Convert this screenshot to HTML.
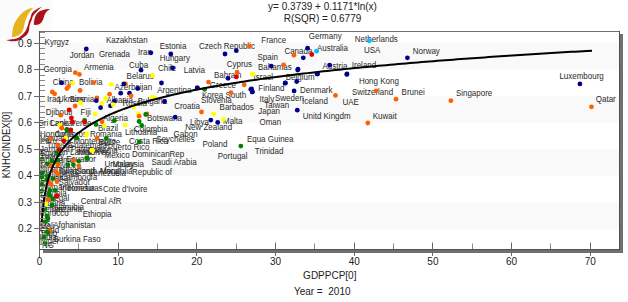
<!DOCTYPE html>
<html><head><meta charset="utf-8"><style>
html,body{margin:0;padding:0;background:#fff;width:628px;height:302px;overflow:hidden}
svg{display:block}
text{font-family:"Liberation Sans",sans-serif}
.lb{font-size:8.8px;fill:#2a2a2a}
.tk{font-size:10px;fill:#222}
.tt{font-size:10px;fill:#222}
.yl{font-size:10.4px;fill:#222}
</style></head><body>
<svg width="628" height="302" viewBox="0 0 628 302">
<g id="logo"><rect x="0" y="0" width="52" height="44" fill="#fbfbfb"/><path d="M11.9,37 C12.3,30 13.5,24.5 15.7,21.1 C18,17 22,12 26.4,9.9 C29,8.6 31,8 33.5,7.8 C31.5,9.5 28.8,12.5 27.3,16.1 C26,19 25.2,21 24.8,22.7 C24,26.5 23.5,30 21.5,33 C19,35.8 15.5,36.8 11.9,37 Z" fill="#e6b41e"/><path d="M6.1,39.9 C10,39.8 14,39.2 16.4,38.6 C19.5,37.8 21.5,35.8 23.1,34.1 C25,32 26,30.5 26.6,28.5 L27.3,26.9 C27.8,25.5 28.2,24.5 28.5,23.1 C29.2,20.5 29.8,19 30.6,17.7 C31,16 31.2,14.8 31.8,13.6 C32.8,12 34,11 35.1,10.3 C37,9 39.5,7.6 41.8,6.8 C39.5,8.8 37.8,10.5 36.4,11.9 C35,13.2 34.2,14.2 33.5,15.3 C32.6,16.8 32.2,18 31.8,19.4 C31.2,21 30.6,22.3 30.2,23.5 C29.8,24.7 29.5,25.8 29.3,26.9 C29.2,28.2 29.2,29.6 28.9,30.8 C28.2,33.2 26.8,35.2 24.7,36.6 C22,38.8 19.5,40.5 16.4,41.1 C12.5,41.7 9,41 6.1,39.9 Z" fill="#aa111a"/><path d="M33.8,24.8 C34,21 34.5,17.5 36,15 C37.5,12.5 40,10.8 42.2,10.3 C45,9.4 47.5,9 50.4,9.1 C48.5,10 46.5,11.5 45.2,13.8 C44,16 43.8,17.5 43.2,19.2 C42.3,21.5 41,23 39.5,24 C37.8,24.9 35.8,25 33.8,24.8 Z" fill="#aa111a"/></g>
<rect x="40" y="43.20" width="579" height="26.50" fill="#f9f9f9"/>
<rect x="40" y="96.20" width="579" height="26.50" fill="#f9f9f9"/>
<rect x="40" y="149.20" width="579" height="26.50" fill="#f9f9f9"/>
<rect x="40" y="202.20" width="579" height="26.50" fill="#f9f9f9"/>
<rect x="620" y="34" width="3" height="219" fill="#707070"/>
<rect x="43" y="250" width="580" height="3" fill="#707070"/>
<rect x="39" y="31" width="581" height="1" fill="#707070"/>
<rect x="619" y="31" width="1" height="219" fill="#505050"/>
<rect x="39" y="249" width="581" height="1" fill="#505050"/>
<defs><clipPath id="pc"><rect x="40" y="32" width="579" height="217"/></clipPath></defs>
<g clip-path="url(#pc)">
<text transform="translate(44.6,44.90) scale(0.909,1)" class="lb">Kyrgyz</text>
<text transform="translate(69.8,58.40) scale(0.909,1)" class="lb">Jordan</text>
<text transform="translate(105.9,42.80) scale(0.909,1)" class="lb">Kazakhstan</text>
<text transform="translate(98.9,56.80) scale(0.909,1)" class="lb">Grenada</text>
<text transform="translate(43.6,71.50) scale(0.909,1)" class="lb">Georgia</text>
<text transform="translate(84,70.00) scale(0.909,1)" class="lb">Armenia</text>
<text transform="translate(138.1,54.80) scale(0.909,1)" class="lb">Iran</text>
<text transform="translate(159.7,48.80) scale(0.909,1)" class="lb">Estonia</text>
<text transform="translate(159.7,60.90) scale(0.909,1)" class="lb">Hungary</text>
<text transform="translate(129,68.00) scale(0.909,1)" class="lb">Cuba</text>
<text transform="translate(126.6,79.30) scale(0.909,1)" class="lb">Belarus</text>
<text transform="translate(158,71.30) scale(0.909,1)" class="lb">Chile</text>
<text transform="translate(183.7,72.50) scale(0.909,1)" class="lb">Latvia</text>
<text transform="translate(199,48.80) scale(0.909,1)" class="lb">Czech Republic</text>
<text transform="translate(226.7,67.10) scale(0.909,1)" class="lb">Cyprus</text>
<text transform="translate(214,77.50) scale(0.909,1)" class="lb">Bahrain</text>
<text transform="translate(261.3,43.20) scale(0.909,1)" class="lb">France</text>
<text transform="translate(308.8,39.40) scale(0.909,1)" class="lb">Germany</text>
<text transform="translate(284.4,53.80) scale(0.909,1)" class="lb">Canada</text>
<text transform="translate(317,50.50) scale(0.909,1)" class="lb">Australia</text>
<text transform="translate(257.5,59.80) scale(0.909,1)" class="lb">Spain</text>
<text transform="translate(258,70.00) scale(0.909,1)" class="lb">Bahamas</text>
<text transform="translate(354.8,42.20) scale(0.909,1)" class="lb">Netherlands</text>
<text transform="translate(363.9,52.70) scale(0.909,1)" class="lb">USA</text>
<text transform="translate(322.5,69.20) scale(0.909,1)" class="lb">Austria</text>
<text transform="translate(351.8,68.00) scale(0.909,1)" class="lb">Ireland</text>
<text transform="translate(412.8,53.80) scale(0.909,1)" class="lb">Norway</text>
<text transform="translate(455.9,96.40) scale(0.909,1)" class="lb">Singapore</text>
<text transform="translate(559.4,79.30) scale(0.909,1)" class="lb">Luxembourg</text>
<text transform="translate(595.8,102.30) scale(0.909,1)" class="lb">Qatar</text>
<text transform="translate(52.8,84.60) scale(0.909,1)" class="lb">China</text>
<text transform="translate(79,84.60) scale(0.909,1)" class="lb">Bolivia</text>
<text transform="translate(47,101.90) scale(0.909,1)" class="lb">Iraq</text>
<text transform="translate(57.9,101.60) scale(0.909,1)" class="lb">Ukraine</text>
<text transform="translate(69.8,101.50) scale(0.909,1)" class="lb">Bosnia</text>
<text transform="translate(114.5,89.90) scale(0.909,1)" class="lb">Azerbaijan</text>
<text transform="translate(157.2,93.10) scale(0.909,1)" class="lb">Argentina</text>
<text transform="translate(106.4,103.30) scale(0.909,1)" class="lb">Albania</text>
<text transform="translate(122.5,105.50) scale(0.909,1)" class="lb">Russia</text>
<text transform="translate(137.7,103.50) scale(0.909,1)" class="lb">Bulgaria</text>
<text transform="translate(174.2,109.10) scale(0.909,1)" class="lb">Croatia</text>
<text transform="translate(103,120.50) scale(0.909,1)" class="lb">Algeria</text>
<text transform="translate(147,120.90) scale(0.909,1)" class="lb">Botswana</text>
<text transform="translate(98,130.60) scale(0.909,1)" class="lb">Brazil</text>
<text transform="translate(134,131.90) scale(0.909,1)" class="lb">Colombia</text>
<text transform="translate(45.7,114.60) scale(0.909,1)" class="lb">Djibouti</text>
<text transform="translate(80.6,114.60) scale(0.909,1)" class="lb">Fiji</text>
<text transform="translate(38.5,125.50) scale(0.909,1)" class="lb">Sri Lanka</text>
<text transform="translate(49.3,125.50) scale(0.909,1)" class="lb">Cape Verde</text>
<text transform="translate(40,136.50) scale(0.909,1)" class="lb">Honduras</text>
<text transform="translate(54.6,136.70) scale(0.909,1)" class="lb">Comoros</text>
<text transform="translate(89.9,136.50) scale(0.909,1)" class="lb">Romania</text>
<text transform="translate(124.9,135.30) scale(0.909,1)" class="lb">Lithuania</text>
<text transform="translate(129.1,143.70) scale(0.909,1)" class="lb">Costa Rica</text>
<text transform="translate(173.6,136.60) scale(0.909,1)" class="lb">Gabon</text>
<text transform="translate(156.2,142.00) scale(0.909,1)" class="lb">Seychelles</text>
<text transform="translate(73.4,143.80) scale(0.909,1)" class="lb">Montenegro</text>
<text transform="translate(98.5,144.70) scale(0.909,1)" class="lb">Belize</text>
<text transform="translate(107.8,150.20) scale(0.909,1)" class="lb">Puerto Rico</text>
<text transform="translate(40,140.60) scale(0.909,1)" class="lb">Vanuatu</text>
<text transform="translate(40,144.30) scale(0.909,1)" class="lb">Peru</text>
<text transform="translate(46.7,147.60) scale(0.909,1)" class="lb">Tunisia</text>
<text transform="translate(68,147.60) scale(0.909,1)" class="lb">Guatemala</text>
<text transform="translate(40,152.00) scale(0.909,1)" class="lb">Jamaica</text>
<text transform="translate(71,152.00) scale(0.909,1)" class="lb">Paraguay</text>
<text transform="translate(88,152.70) scale(0.909,1)" class="lb">Panama</text>
<text transform="translate(40,155.80) scale(0.909,1)" class="lb">Egypt</text>
<text transform="translate(58,155.10) scale(0.909,1)" class="lb">Sri Lanka</text>
<text transform="translate(78,155.10) scale(0.909,1)" class="lb">Maldives</text>
<text transform="translate(131.9,156.90) scale(0.909,1)" class="lb">DominicanRep</text>
<text transform="translate(104.5,158.10) scale(0.909,1)" class="lb">Mexico</text>
<text transform="translate(40,158.50) scale(0.909,1)" class="lb">Turkey</text>
<text transform="translate(66.2,162.20) scale(0.909,1)" class="lb">Ecuador</text>
<text transform="translate(40,162.80) scale(0.909,1)" class="lb">Suriname</text>
<text transform="translate(104.5,166.70) scale(0.909,1)" class="lb">Uruguay</text>
<text transform="translate(112.5,167.10) scale(0.909,1)" class="lb">Malaysia</text>
<text transform="translate(151.4,164.80) scale(0.909,1)" class="lb">Saudi Arabia</text>
<text transform="translate(40,167.80) scale(0.909,1)" class="lb">Moldova</text>
<text transform="translate(58.6,173.90) scale(0.909,1)" class="lb">Swaziland</text>
<text transform="translate(76,174.20) scale(0.909,1)" class="lb">South Africa</text>
<text transform="translate(100,173.70) scale(0.909,1)" class="lb">Mongolia</text>
<text transform="translate(132,174.60) scale(0.909,1)" class="lb">Republic of</text>
<text transform="translate(88.7,176.30) scale(0.909,1)" class="lb">Venezuela</text>
<text transform="translate(40,171.80) scale(0.909,1)" class="lb">Nicaragua</text>
<text transform="translate(40,176.80) scale(0.909,1)" class="lb">Philippines</text>
<text transform="translate(60.7,179.70) scale(0.909,1)" class="lb">Cambodia</text>
<text transform="translate(40,181.30) scale(0.909,1)" class="lb">Guyana</text>
<text transform="translate(58.6,185.30) scale(0.909,1)" class="lb">Salvador</text>
<text transform="translate(40,185.80) scale(0.909,1)" class="lb">El</text>
<text transform="translate(60,190.70) scale(0.909,1)" class="lb">Indonesia</text>
<text transform="translate(68,190.70) scale(0.909,1)" class="lb">Honduras</text>
<text transform="translate(103,191.90) scale(0.909,1)" class="lb">Cote d'Ivoire</text>
<text transform="translate(40,190.30) scale(0.909,1)" class="lb">Vietnam</text>
<text transform="translate(40,196.30) scale(0.909,1)" class="lb">Zambia</text>
<text transform="translate(40,201.30) scale(0.909,1)" class="lb">Senegal</text>
<text transform="translate(80.7,204.40) scale(0.909,1)" class="lb">Central AfR</text>
<text transform="translate(54.6,210.30) scale(0.909,1)" class="lb">Namibia</text>
<text transform="translate(50,211.80) scale(0.909,1)" class="lb">Tanzania</text>
<text transform="translate(82.7,216.90) scale(0.909,1)" class="lb">Ethiopia</text>
<text transform="translate(38,216.10) scale(0.909,1)" class="lb">Morocco</text>
<text transform="translate(40,211.80) scale(0.909,1)" class="lb">Kenya</text>
<text transform="translate(40,206.30) scale(0.909,1)" class="lb">Nigeria</text>
<text transform="translate(53.2,227.70) scale(0.909,1)" class="lb">Afghanistan</text>
<text transform="translate(53.7,242.10) scale(0.909,1)" class="lb">Burkina Faso</text>
<text transform="translate(33,226.30) scale(0.909,1)" class="lb">Laos</text>
<text transform="translate(40,229.30) scale(0.909,1)" class="lb">Mali</text>
<text transform="translate(40,233.30) scale(0.909,1)" class="lb">Chad</text>
<text transform="translate(39.5,240.00) scale(0.909,1)" class="lb">India</text>
<text transform="translate(40,236.30) scale(0.909,1)" class="lb">Togo</text>
<text transform="translate(42,247.80) scale(0.909,1)" class="lb">NG</text>
<text transform="translate(40,244.30) scale(0.909,1)" class="lb">Niger</text>
<text transform="translate(189.9,125.30) scale(0.909,1)" class="lb">Libya</text>
<text transform="translate(185.2,129.90) scale(0.909,1)" class="lb">New Zealand</text>
<text transform="translate(223,124.10) scale(0.909,1)" class="lb">Malta</text>
<text transform="translate(202.5,146.90) scale(0.909,1)" class="lb">Poland</text>
<text transform="translate(217.8,159.10) scale(0.909,1)" class="lb">Portugal</text>
<text transform="translate(209.8,88.20) scale(0.909,1)" class="lb">Greece</text>
<text transform="translate(201.9,98.30) scale(0.909,1)" class="lb">Korea South</text>
<text transform="translate(201.1,102.80) scale(0.909,1)" class="lb">Slovenia</text>
<text transform="translate(219.6,109.60) scale(0.909,1)" class="lb">Barbados</text>
<text transform="translate(258.3,91.20) scale(0.909,1)" class="lb">Finland</text>
<text transform="translate(259.5,101.70) scale(0.909,1)" class="lb">Italy</text>
<text transform="translate(275,101.10) scale(0.909,1)" class="lb">Sweden</text>
<text transform="translate(264.3,107.70) scale(0.909,1)" class="lb">Taiwan</text>
<text transform="translate(258.3,113.80) scale(0.909,1)" class="lb">Japan</text>
<text transform="translate(259.5,125.10) scale(0.909,1)" class="lb">Oman</text>
<text transform="translate(246.9,142.30) scale(0.909,1)" class="lb">Equa Guinea</text>
<text transform="translate(254.8,153.70) scale(0.909,1)" class="lb">Trinidad</text>
<text transform="translate(253.6,79.80) scale(0.909,1)" class="lb">Israel</text>
<text transform="translate(285.8,80.20) scale(0.909,1)" class="lb">Belgium</text>
<text transform="translate(300.1,93.20) scale(0.909,1)" class="lb">Denmark</text>
<text transform="translate(302.1,104.10) scale(0.909,1)" class="lb">Iceland</text>
<text transform="translate(302.7,118.60) scale(0.909,1)" class="lb">Unitd Kingdm</text>
<text transform="translate(342.4,105.10) scale(0.909,1)" class="lb">UAE</text>
<text transform="translate(358.9,84.20) scale(0.909,1)" class="lb">Hong Kong</text>
<text transform="translate(351.9,95.10) scale(0.909,1)" class="lb">Switzerland</text>
<text transform="translate(401.6,95.10) scale(0.909,1)" class="lb">Brunei</text>
<text transform="translate(372.8,119.00) scale(0.909,1)" class="lb">Kuwait</text>
<circle cx="86.3" cy="49" r="2.4" fill="#00008b"/>
<circle cx="75.3" cy="72.7" r="2.4" fill="#ff6000"/>
<circle cx="79.4" cy="74.4" r="2.4" fill="#ff6000"/>
<circle cx="150.9" cy="52.8" r="2.4" fill="#00008b"/>
<circle cx="170.8" cy="54" r="2.4" fill="#00008b"/>
<circle cx="141" cy="70.2" r="2.4" fill="#00008b"/>
<circle cx="152.7" cy="75.5" r="2.4" fill="#ffff00"/>
<circle cx="172.6" cy="68" r="2.4" fill="#00008b"/>
<circle cx="225" cy="54" r="2.4" fill="#00008b"/>
<circle cx="236.3" cy="50.7" r="2.4" fill="#00008b"/>
<circle cx="249.5" cy="46" r="2.4" fill="#ff6000"/>
<circle cx="237.1" cy="72.2" r="2.4" fill="#ff6000"/>
<circle cx="236.3" cy="76.9" r="2.4" fill="#e00000"/>
<circle cx="228" cy="78.3" r="2.4" fill="#00008b"/>
<circle cx="252.8" cy="74.4" r="2.4" fill="#ffff00"/>
<circle cx="293.9" cy="55.2" r="2.4" fill="#ff6000"/>
<circle cx="307.6" cy="48.2" r="2.4" fill="#00008b"/>
<circle cx="311.8" cy="54.5" r="2.4" fill="#e00000"/>
<circle cx="316.6" cy="51.2" r="2.4" fill="#00c0ff"/>
<circle cx="303.3" cy="57.8" r="2.4" fill="#00008b"/>
<circle cx="271.2" cy="66.1" r="2.4" fill="#00008b"/>
<circle cx="283.6" cy="64.8" r="2.4" fill="#ff6000"/>
<circle cx="298" cy="69.2" r="2.4" fill="#00008b"/>
<circle cx="317" cy="73.9" r="2.4" fill="#00008b"/>
<circle cx="369.3" cy="40.8" r="2.4" fill="#00c0ff"/>
<circle cx="329.6" cy="65.1" r="2.4" fill="#00008b"/>
<circle cx="346.8" cy="74.4" r="2.4" fill="#00008b"/>
<circle cx="407.4" cy="57.8" r="2.4" fill="#00008b"/>
<circle cx="450.9" cy="100.7" r="2.4" fill="#ff6000"/>
<circle cx="579.9" cy="83.9" r="2.4" fill="#00008b"/>
<circle cx="591.5" cy="106.8" r="2.4" fill="#ff6000"/>
<circle cx="61.6" cy="82.8" r="2.4" fill="#00008b"/>
<circle cx="72.7" cy="83.2" r="2.4" fill="#ffff00"/>
<circle cx="93.4" cy="82.6" r="2.4" fill="#ff6000"/>
<circle cx="66.9" cy="88.5" r="2.4" fill="#ff6000"/>
<circle cx="68.5" cy="86.6" r="2.4" fill="#ff6000"/>
<circle cx="80.1" cy="90.5" r="2.4" fill="#ff6000"/>
<circle cx="52.3" cy="91.9" r="2.4" fill="#ff6000"/>
<circle cx="54.6" cy="93.8" r="2.4" fill="#ff6000"/>
<circle cx="80.4" cy="102.8" r="2.4" fill="#ffff00"/>
<circle cx="75.1" cy="106" r="2.4" fill="#ff6000"/>
<circle cx="69.1" cy="109.9" r="2.4" fill="#e00000"/>
<circle cx="96.9" cy="97.8" r="2.4" fill="#ff6000"/>
<circle cx="96.3" cy="100.7" r="2.4" fill="#00008b"/>
<circle cx="111.2" cy="84.3" r="2.4" fill="#ffff00"/>
<circle cx="125.5" cy="83.9" r="2.4" fill="#ff6000"/>
<circle cx="123.8" cy="83.9" r="2.4" fill="#00008b"/>
<circle cx="137.7" cy="88.5" r="2.4" fill="#00008b"/>
<circle cx="120.7" cy="93.2" r="2.4" fill="#00008b"/>
<circle cx="129.5" cy="93.2" r="2.4" fill="#00008b"/>
<circle cx="131.1" cy="95.8" r="2.4" fill="#ff6000"/>
<circle cx="109.6" cy="94.2" r="2.4" fill="#ff6000"/>
<circle cx="105.6" cy="98.5" r="2.4" fill="#ffff00"/>
<circle cx="101.9" cy="103.4" r="2.4" fill="#ffff00"/>
<circle cx="100.6" cy="107.7" r="2.4" fill="#00008b"/>
<circle cx="114.5" cy="101.1" r="2.4" fill="#00008b"/>
<circle cx="110.5" cy="105.8" r="2.4" fill="#00008b"/>
<circle cx="113.2" cy="104.7" r="2.4" fill="#ffff00"/>
<circle cx="133.7" cy="107.1" r="2.4" fill="#ffff00"/>
<circle cx="161.5" cy="83" r="2.4" fill="#00008b"/>
<circle cx="197.2" cy="87.9" r="2.4" fill="#00008b"/>
<circle cx="152.2" cy="97.2" r="2.4" fill="#ffff00"/>
<circle cx="154.6" cy="97.8" r="2.4" fill="#ffff00"/>
<circle cx="164.5" cy="101.5" r="2.4" fill="#00008b"/>
<circle cx="138.4" cy="113.8" r="2.4" fill="#ffff00"/>
<circle cx="139.1" cy="116.2" r="2.4" fill="#ff6000"/>
<circle cx="147" cy="113.8" r="2.4" fill="#ff6000"/>
<circle cx="145.7" cy="114.5" r="2.4" fill="#008000"/>
<circle cx="139.1" cy="121.5" r="2.4" fill="#008000"/>
<circle cx="141.7" cy="125.5" r="2.4" fill="#008000"/>
<circle cx="114.3" cy="120.7" r="2.4" fill="#008000"/>
<circle cx="102" cy="121.8" r="2.4" fill="#ff6000"/>
<circle cx="125.2" cy="125.1" r="2.4" fill="#ffff00"/>
<circle cx="104.6" cy="125.8" r="2.4" fill="#ffff00"/>
<circle cx="175.2" cy="117.2" r="2.4" fill="#00008b"/>
<circle cx="60.8" cy="115.2" r="2.4" fill="#ff6000"/>
<circle cx="95.2" cy="113.9" r="2.4" fill="#ffff00"/>
<circle cx="80.6" cy="102.9" r="2.4" fill="#ffff00"/>
<circle cx="71.4" cy="117.9" r="2.4" fill="#e00000"/>
<circle cx="72.4" cy="121.9" r="2.4" fill="#e00000"/>
<circle cx="84.6" cy="120.5" r="2.4" fill="#008000"/>
<circle cx="84.6" cy="122" r="2.4" fill="#e00000"/>
<circle cx="96" cy="124.5" r="2.4" fill="#008000"/>
<circle cx="61.6" cy="128.1" r="2.4" fill="#ff6000"/>
<circle cx="59.9" cy="125.2" r="2.4" fill="#ffff00"/>
<circle cx="66.9" cy="129.4" r="2.4" fill="#008000"/>
<circle cx="70.5" cy="130.2" r="2.4" fill="#e00000"/>
<circle cx="201.5" cy="112" r="2.4" fill="#ff6000"/>
<circle cx="213.8" cy="113.8" r="2.4" fill="#ffff00"/>
<circle cx="210.8" cy="120.1" r="2.4" fill="#00008b"/>
<circle cx="217.7" cy="122.4" r="2.4" fill="#00008b"/>
<circle cx="223.5" cy="119.4" r="2.4" fill="#ffff00"/>
<circle cx="240.8" cy="146.1" r="2.4" fill="#008000"/>
<circle cx="208.5" cy="82.1" r="2.4" fill="#ff6000"/>
<circle cx="244.2" cy="84.8" r="2.4" fill="#ff6000"/>
<circle cx="231" cy="92.7" r="2.4" fill="#ff6000"/>
<circle cx="250.8" cy="89.3" r="2.4" fill="#00008b"/>
<circle cx="252.2" cy="91.9" r="2.4" fill="#00008b"/>
<circle cx="285.2" cy="83.2" r="2.4" fill="#00008b"/>
<circle cx="197.4" cy="87.9" r="2.4" fill="#00008b"/>
<circle cx="204.6" cy="89.3" r="2.4" fill="#008000"/>
<circle cx="252.4" cy="74" r="2.4" fill="#ffff00"/>
<circle cx="297.7" cy="70" r="2.4" fill="#00008b"/>
<circle cx="317.6" cy="74" r="2.4" fill="#00008b"/>
<circle cx="347" cy="74" r="2.4" fill="#00008b"/>
<circle cx="285.4" cy="82.9" r="2.4" fill="#00008b"/>
<circle cx="296.7" cy="81.5" r="2.4" fill="#00008b"/>
<circle cx="251.6" cy="88.9" r="2.4" fill="#00008b"/>
<circle cx="252.4" cy="91.9" r="2.4" fill="#00008b"/>
<circle cx="294.1" cy="90.9" r="2.4" fill="#00008b"/>
<circle cx="335.5" cy="95.4" r="2.4" fill="#ff6000"/>
<circle cx="297.3" cy="110.2" r="2.4" fill="#00008b"/>
<circle cx="376.2" cy="90.8" r="2.4" fill="#ff6000"/>
<circle cx="396" cy="99.2" r="2.4" fill="#ff6000"/>
<circle cx="367.8" cy="123" r="2.4" fill="#ff6000"/>
<circle cx="97" cy="138.3" r="2.4" fill="#ff6000"/>
<circle cx="106.2" cy="138.3" r="2.4" fill="#008000"/>
<circle cx="86.4" cy="135.3" r="2.4" fill="#ffff00"/>
<circle cx="87.3" cy="158.5" r="2.4" fill="#008000"/>
<circle cx="92.6" cy="150.5" r="2.4" fill="#ffff00"/>
<circle cx="139.3" cy="141.9" r="2.4" fill="#008000"/>
<circle cx="56.3" cy="196.2" r="2.4" fill="#e00000"/>
<circle cx="47.6" cy="217.4" r="2.4" fill="#008000"/>
<circle cx="47.1" cy="231.8" r="2.4" fill="#008000"/>
<circle cx="43.8" cy="238.1" r="2.4" fill="#008000"/>
<circle cx="49.6" cy="231.2" r="2.4" fill="#ff6000"/>
<circle cx="61.9" cy="128" r="2.4" fill="#ff6000"/>
<circle cx="66.8" cy="130" r="2.4" fill="#008000"/>
<circle cx="70.8" cy="130" r="2.4" fill="#e00000"/>
<circle cx="65.8" cy="137.9" r="2.4" fill="#ffff00"/>
<circle cx="50.9" cy="138.9" r="2.4" fill="#ff6000"/>
<circle cx="63.8" cy="140.9" r="2.4" fill="#e00000"/>
<circle cx="76.8" cy="137.9" r="2.4" fill="#008000"/>
<circle cx="86.7" cy="133.9" r="2.4" fill="#ffff00"/>
<circle cx="57.9" cy="144.9" r="2.4" fill="#ff6000"/>
<circle cx="58.9" cy="149.9" r="2.4" fill="#e00000"/>
<circle cx="56.9" cy="152.8" r="2.4" fill="#008000"/>
<circle cx="91.7" cy="150.4" r="2.4" fill="#ffff00"/>
<circle cx="86.7" cy="157.8" r="2.4" fill="#008000"/>
<circle cx="42" cy="159.2" r="2.4" fill="#008000"/>
<circle cx="47.9" cy="163.8" r="2.4" fill="#008000"/>
<circle cx="51.9" cy="160.8" r="2.4" fill="#008000"/>
<circle cx="57.9" cy="160.4" r="2.4" fill="#008000"/>
<circle cx="73.8" cy="160.4" r="2.4" fill="#ff6000"/>
<circle cx="78.8" cy="161.2" r="2.4" fill="#008000"/>
<circle cx="50.9" cy="165.8" r="2.4" fill="#ff6000"/>
<circle cx="57.9" cy="164.8" r="2.4" fill="#ff6000"/>
<circle cx="67.8" cy="164.8" r="2.4" fill="#008000"/>
<circle cx="73.4" cy="164.8" r="2.4" fill="#008000"/>
<circle cx="78.8" cy="165.8" r="2.4" fill="#ff6000"/>
<circle cx="55.9" cy="171.7" r="2.4" fill="#ff6000"/>
<circle cx="57.9" cy="173.7" r="2.4" fill="#ff6000"/>
<circle cx="42" cy="173.2" r="2.4" fill="#008000"/>
<circle cx="47.3" cy="175.9" r="2.4" fill="#008000"/>
<circle cx="42" cy="177" r="2.4" fill="#008000"/>
<circle cx="46.9" cy="179.7" r="2.4" fill="#008000"/>
<circle cx="52.9" cy="178.7" r="2.4" fill="#008000"/>
<circle cx="56.9" cy="181.7" r="2.4" fill="#ff6000"/>
<circle cx="42" cy="184.5" r="2.4" fill="#008000"/>
<circle cx="49.3" cy="182.5" r="2.4" fill="#ff6000"/>
<circle cx="51.2" cy="184.5" r="2.4" fill="#ff6000"/>
<circle cx="41.3" cy="191.1" r="2.4" fill="#008000"/>
<circle cx="49.9" cy="190.4" r="2.4" fill="#008000"/>
<circle cx="55.2" cy="190.4" r="2.4" fill="#008000"/>
<circle cx="49.9" cy="195.7" r="2.4" fill="#008000"/>
<circle cx="57.2" cy="195.7" r="2.4" fill="#e00000"/>
<circle cx="48.9" cy="194" r="2.4" fill="#008000"/>
<circle cx="52.9" cy="199" r="2.4" fill="#008000"/>
<circle cx="48.3" cy="199.5" r="2.4" fill="#ff6000"/>
<circle cx="45.9" cy="204" r="2.4" fill="#ffff00"/>
<circle cx="51.9" cy="204.9" r="2.4" fill="#008000"/>
<circle cx="45" cy="208.9" r="2.4" fill="#008000"/>
<circle cx="46.9" cy="215.8" r="2.4" fill="#008000"/>
<circle cx="47.9" cy="218.8" r="2.4" fill="#008000"/>
<circle cx="45" cy="221.8" r="2.4" fill="#008000"/>
<circle cx="49.9" cy="230.8" r="2.4" fill="#ff6000"/>
<circle cx="47.9" cy="232.7" r="2.4" fill="#008000"/>
<circle cx="44" cy="236.7" r="2.4" fill="#008000"/>
<circle cx="45" cy="243.7" r="2.4" fill="#008000"/>
<polyline points="41.70,222.12 41.77,221.20 41.84,220.28 41.91,219.37 41.98,218.45 42.05,217.53 42.13,216.62 42.21,215.70 42.29,214.78 42.37,213.86 42.46,212.95 42.55,212.03 42.64,211.11 42.74,210.19 42.83,209.28 42.93,208.36 43.04,207.44 43.14,206.53 43.25,205.61 43.36,204.69 43.48,203.77 43.60,202.86 43.72,201.94 43.85,201.02 43.98,200.10 44.11,199.19 44.25,198.27 44.39,197.35 44.54,196.44 44.69,195.52 44.85,194.60 45.01,193.68 45.17,192.77 45.34,191.85 45.52,190.93 45.70,190.01 45.89,189.10 46.08,188.18 46.27,187.26 46.48,186.35 46.69,185.43 46.90,184.51 47.12,183.59 47.35,182.68 47.59,181.76 47.83,180.84 48.08,179.92 48.34,179.01 48.60,178.09 48.88,177.17 49.16,176.26 49.45,175.34 49.75,174.42 50.05,173.50 50.37,172.59 50.70,171.67 51.03,170.75 51.38,169.84 51.73,168.92 52.10,168.00 52.48,167.08 52.87,166.17 53.27,165.25 53.68,164.33 54.11,163.41 54.55,162.50 55.00,161.58 55.46,160.66 55.94,159.75 56.44,158.83 56.94,157.91 57.47,156.99 58.01,156.08 58.56,155.16 59.13,154.24 59.72,153.32 60.33,152.41 60.95,151.49 61.60,150.57 62.26,149.66 62.94,148.74 63.65,147.82 64.37,146.90 65.12,145.99 65.88,145.07 66.68,144.15 67.49,143.23 68.33,142.32 69.20,141.40 70.09,140.48 71.00,139.57 71.95,138.65 72.92,137.73 73.93,136.81 74.96,135.90 76.02,134.98 77.12,134.06 78.25,133.14 79.41,132.23 83.34,129.31 87.28,126.64 91.21,124.19 95.14,121.91 99.08,119.79 103.01,117.81 106.95,115.94 110.88,114.18 114.81,112.52 118.75,110.94 122.68,109.44 126.62,108.00 130.55,106.63 134.48,105.32 138.42,104.06 142.35,102.85 146.29,101.69 150.22,100.56 154.15,99.48 158.09,98.43 162.02,97.42 165.96,96.44 169.89,95.49 173.82,94.57 177.76,93.67 181.69,92.80 185.63,91.95 189.56,91.13 193.49,90.33 197.43,89.54 201.36,88.78 205.30,88.03 209.23,87.31 213.16,86.59 217.10,85.90 221.03,85.22 224.97,84.55 228.90,83.90 232.83,83.27 236.77,82.64 240.70,82.03 244.64,81.43 248.57,80.84 252.50,80.26 256.44,79.69 260.37,79.13 264.31,78.59 268.24,78.05 272.17,77.52 276.11,77.00 280.04,76.49 283.98,75.98 287.91,75.49 291.84,75.00 295.78,74.52 299.71,74.05 303.65,73.58 307.58,73.12 311.51,72.67 315.45,72.22 319.38,71.79 323.32,71.35 327.25,70.93 331.18,70.50 335.12,70.09 339.05,69.68 342.99,69.27 346.92,68.87 350.85,68.48 354.79,68.09 358.72,67.70 362.66,67.32 366.59,66.95 370.52,66.58 374.46,66.21 378.39,65.85 382.33,65.49 386.26,65.14 390.19,64.79 394.13,64.44 398.06,64.10 402.00,63.76 405.93,63.42 409.86,63.09 413.80,62.77 417.73,62.44 421.67,62.12 425.60,61.80 429.53,61.49 433.47,61.18 437.40,60.87 441.34,60.56 445.27,60.26 449.20,59.96 453.14,59.66 457.07,59.37 461.01,59.08 464.94,58.79 468.87,58.51 472.81,58.22 476.74,57.94 480.68,57.66 484.61,57.39 488.54,57.12 492.48,56.84 496.41,56.58 500.35,56.31 504.28,56.05 508.21,55.78 512.15,55.53 516.08,55.27 520.02,55.01 523.95,54.76 527.88,54.51 531.82,54.26 535.75,54.01 539.69,53.77 543.62,53.53 547.55,53.28 551.49,53.04 555.42,52.81 559.36,52.57 563.29,52.34 567.22,52.11 571.16,51.87 575.09,51.65 579.03,51.42 582.96,51.19 586.89,50.97 592.00,50.68" fill="none" stroke="#000" stroke-width="2"/>
</g>
<rect x="39" y="31" width="1" height="227" fill="#555"/>
<line x1="40" y1="244.5" x2="45" y2="244.5" stroke="#8a8a8a" stroke-width="1"/>
<line x1="40" y1="239.5" x2="45" y2="239.5" stroke="#8a8a8a" stroke-width="1"/>
<line x1="40" y1="234.5" x2="45" y2="234.5" stroke="#8a8a8a" stroke-width="1"/>
<line x1="34" y1="228.5" x2="45" y2="228.5" stroke="#666" stroke-width="1"/>
<line x1="40" y1="223.5" x2="45" y2="223.5" stroke="#8a8a8a" stroke-width="1"/>
<line x1="40" y1="218.5" x2="45" y2="218.5" stroke="#8a8a8a" stroke-width="1"/>
<line x1="40" y1="212.5" x2="45" y2="212.5" stroke="#8a8a8a" stroke-width="1"/>
<line x1="40" y1="207.5" x2="45" y2="207.5" stroke="#8a8a8a" stroke-width="1"/>
<line x1="34" y1="202.5" x2="45" y2="202.5" stroke="#666" stroke-width="1"/>
<line x1="40" y1="196.5" x2="45" y2="196.5" stroke="#8a8a8a" stroke-width="1"/>
<line x1="40" y1="191.5" x2="45" y2="191.5" stroke="#8a8a8a" stroke-width="1"/>
<line x1="40" y1="186.5" x2="45" y2="186.5" stroke="#8a8a8a" stroke-width="1"/>
<line x1="40" y1="181.5" x2="45" y2="181.5" stroke="#8a8a8a" stroke-width="1"/>
<line x1="34" y1="175.5" x2="45" y2="175.5" stroke="#666" stroke-width="1"/>
<line x1="40" y1="170.5" x2="45" y2="170.5" stroke="#8a8a8a" stroke-width="1"/>
<line x1="40" y1="165.5" x2="45" y2="165.5" stroke="#8a8a8a" stroke-width="1"/>
<line x1="40" y1="159.5" x2="45" y2="159.5" stroke="#8a8a8a" stroke-width="1"/>
<line x1="40" y1="154.5" x2="45" y2="154.5" stroke="#8a8a8a" stroke-width="1"/>
<line x1="34" y1="149.5" x2="45" y2="149.5" stroke="#666" stroke-width="1"/>
<line x1="40" y1="143.5" x2="45" y2="143.5" stroke="#8a8a8a" stroke-width="1"/>
<line x1="40" y1="138.5" x2="45" y2="138.5" stroke="#8a8a8a" stroke-width="1"/>
<line x1="40" y1="133.5" x2="45" y2="133.5" stroke="#8a8a8a" stroke-width="1"/>
<line x1="40" y1="127.5" x2="45" y2="127.5" stroke="#8a8a8a" stroke-width="1"/>
<line x1="34" y1="122.5" x2="45" y2="122.5" stroke="#666" stroke-width="1"/>
<line x1="40" y1="117.5" x2="45" y2="117.5" stroke="#8a8a8a" stroke-width="1"/>
<line x1="40" y1="112.5" x2="45" y2="112.5" stroke="#8a8a8a" stroke-width="1"/>
<line x1="40" y1="106.5" x2="45" y2="106.5" stroke="#8a8a8a" stroke-width="1"/>
<line x1="40" y1="101.5" x2="45" y2="101.5" stroke="#8a8a8a" stroke-width="1"/>
<line x1="34" y1="96.5" x2="45" y2="96.5" stroke="#666" stroke-width="1"/>
<line x1="40" y1="90.5" x2="45" y2="90.5" stroke="#8a8a8a" stroke-width="1"/>
<line x1="40" y1="85.5" x2="45" y2="85.5" stroke="#8a8a8a" stroke-width="1"/>
<line x1="40" y1="80.5" x2="45" y2="80.5" stroke="#8a8a8a" stroke-width="1"/>
<line x1="40" y1="75.5" x2="45" y2="75.5" stroke="#8a8a8a" stroke-width="1"/>
<line x1="34" y1="69.5" x2="45" y2="69.5" stroke="#666" stroke-width="1"/>
<line x1="40" y1="64.5" x2="45" y2="64.5" stroke="#8a8a8a" stroke-width="1"/>
<line x1="40" y1="59.5" x2="45" y2="59.5" stroke="#8a8a8a" stroke-width="1"/>
<line x1="40" y1="53.5" x2="45" y2="53.5" stroke="#8a8a8a" stroke-width="1"/>
<line x1="40" y1="48.5" x2="45" y2="48.5" stroke="#8a8a8a" stroke-width="1"/>
<line x1="34" y1="43.5" x2="45" y2="43.5" stroke="#666" stroke-width="1"/>
<line x1="40" y1="37.5" x2="45" y2="37.5" stroke="#8a8a8a" stroke-width="1"/>
<line x1="40" y1="32.5" x2="45" y2="32.5" stroke="#8a8a8a" stroke-width="1"/>
<text x="32" y="232.20" text-anchor="end" class="tk">0.2</text>
<text x="32" y="205.70" text-anchor="end" class="tk">0.3</text>
<text x="32" y="179.20" text-anchor="end" class="tk">0.4</text>
<text x="32" y="152.70" text-anchor="end" class="tk">0.5</text>
<text x="32" y="126.20" text-anchor="end" class="tk">0.6</text>
<text x="32" y="99.70" text-anchor="end" class="tk">0.7</text>
<text x="32" y="73.20" text-anchor="end" class="tk">0.8</text>
<text x="32" y="46.70" text-anchor="end" class="tk">0.9</text>
<line x1="39.5" y1="242.5" x2="39.5" y2="256" stroke="#666" stroke-width="1"/>
<text x="39.50" y="264.5" text-anchor="middle" class="tk">0</text>
<line x1="78.5" y1="243.5" x2="78.5" y2="249" stroke="#8a8a8a" stroke-width="1"/>
<line x1="118.5" y1="242.5" x2="118.5" y2="256" stroke="#666" stroke-width="1"/>
<text x="118.18" y="264.5" text-anchor="middle" class="tk">10</text>
<line x1="157.5" y1="243.5" x2="157.5" y2="249" stroke="#8a8a8a" stroke-width="1"/>
<line x1="196.5" y1="242.5" x2="196.5" y2="256" stroke="#666" stroke-width="1"/>
<text x="196.86" y="264.5" text-anchor="middle" class="tk">20</text>
<line x1="236.5" y1="243.5" x2="236.5" y2="249" stroke="#8a8a8a" stroke-width="1"/>
<line x1="275.5" y1="242.5" x2="275.5" y2="256" stroke="#666" stroke-width="1"/>
<text x="275.54" y="264.5" text-anchor="middle" class="tk">30</text>
<line x1="314.5" y1="243.5" x2="314.5" y2="249" stroke="#8a8a8a" stroke-width="1"/>
<line x1="354.5" y1="242.5" x2="354.5" y2="256" stroke="#666" stroke-width="1"/>
<text x="354.22" y="264.5" text-anchor="middle" class="tk">40</text>
<line x1="393.5" y1="243.5" x2="393.5" y2="249" stroke="#8a8a8a" stroke-width="1"/>
<line x1="432.5" y1="242.5" x2="432.5" y2="256" stroke="#666" stroke-width="1"/>
<text x="432.90" y="264.5" text-anchor="middle" class="tk">50</text>
<line x1="472.5" y1="243.5" x2="472.5" y2="249" stroke="#8a8a8a" stroke-width="1"/>
<line x1="511.5" y1="242.5" x2="511.5" y2="256" stroke="#666" stroke-width="1"/>
<text x="511.58" y="264.5" text-anchor="middle" class="tk">60</text>
<line x1="550.5" y1="243.5" x2="550.5" y2="249" stroke="#8a8a8a" stroke-width="1"/>
<line x1="590.5" y1="242.5" x2="590.5" y2="256" stroke="#666" stroke-width="1"/>
<text x="590.26" y="264.5" text-anchor="middle" class="tk">70</text>
<text x="322.5" y="9.6" text-anchor="middle" class="tt">y= 0.3739 + 0.1171*ln(x)</text>
<text x="322.5" y="22" text-anchor="middle" class="tt">R(SQR) = 0.6779</text>
<text x="329.8" y="278.7" text-anchor="middle" class="tt">GDPPCP[0]</text>
<text x="322.2" y="294.6" text-anchor="middle" class="tt" xml:space="preserve">Year =  2010</text>
<text transform="translate(10.2,145) rotate(-90) scale(0.915,1)" text-anchor="middle" class="yl">KNHCINDEX[0]</text>
</svg>
</body></html>
